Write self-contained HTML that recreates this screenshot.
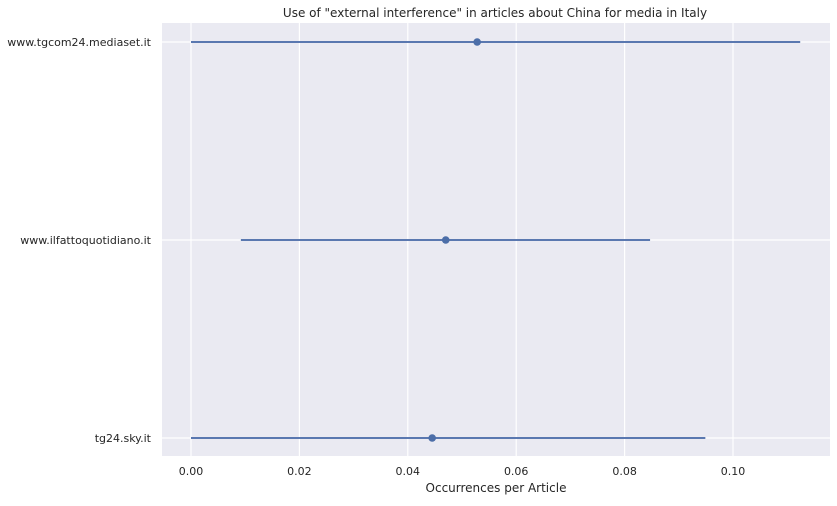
<!DOCTYPE html>
<html><head><meta charset="utf-8"><style>
body{margin:0;background:#fff;font-family:"Liberation Sans","DejaVu Sans",sans-serif}
</style></head><body>
<svg width="837" height="501" id="chart" style="font-family:'DejaVu Sans','Liberation Sans',sans-serif">
<text x="495" y="17" text-anchor="middle" font-size="12" fill="#262626">Use of "external interference" in articles about China for media in Italy</text>
<rect x="162" y="23" width="668" height="433" fill="#eaeaf2"/>
<g id="grid"></g><g id="marks"></g><g id="labels"></g>
<text x="496" y="492" text-anchor="middle" font-size="12" fill="#262626">Occurrences per Article</text>
</svg>
<script>
const categories=["www.tgcom24.mediaset.it","www.ilfattoquotidiano.it","tg24.sky.it"];
const means=[0.0528,0.047,0.0445];
const lows=[0,0.0092,0];
const highs=[0.1124,0.0847,0.0949];
const xTicks=[0,0.02,0.04,0.06,0.08,0.10];
const tickLabels=["0.00","0.02","0.04","0.06","0.08","0.10"];
const NS="http://www.w3.org/2000/svg";
const xs=v=>191+v*5420;
const ys=i=>42+i*198;
function mk(t,a,p){const e=document.createElementNS(NS,t);for(const k in a)e.setAttribute(k,a[k]);p.appendChild(e);return e;}
const g=document.getElementById('grid'),m=document.getElementById('marks'),l=document.getElementById('labels');
xTicks.forEach((v,i)=>{
 const ln=mk('line',{x1:xs(v),x2:xs(v),y1:23,y2:456,stroke:'#fff','stroke-width':1.2},g);
 
 
 const t=mk('text',{x:xs(v),y:475,'text-anchor':'middle','font-size':11,fill:'#262626'},l);
 t.textContent=tickLabels[i];
 
 
});
categories.forEach((c,i)=>{
 const y=ys(i);
 const gl=mk('line',{x1:162,x2:830,y1:y,y2:y,stroke:'#fff','stroke-width':1.2},g);
 
 
 const e=mk('line',{x1:xs(lows[i]),x2:xs(highs[i]),y1:y,y2:y,stroke:'#5a78b0','stroke-width':2},m);
 
 
 const p=mk('circle',{cx:xs(means[i]),cy:y,r:3.8,fill:'#4c6ea8'},m);
 
 
 const t=mk('text',{x:151,y:y+4,'text-anchor':'end','font-size':11,fill:'#262626'},l);
 t.textContent=c;
 
 
});
</script>
</body></html>
